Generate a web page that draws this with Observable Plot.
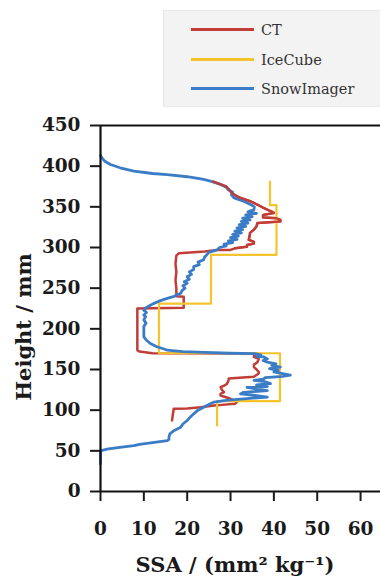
<!DOCTYPE html>
<html>
<head>
<meta charset="utf-8">
<script src="https://cdn.jsdelivr.net/npm/d3@7"></script>
<script src="https://cdn.jsdelivr.net/npm/@observablehq/plot@0.6"></script>
<style>
  html, body { margin: 0; padding: 0; background: #fff; }
  body { width: 380px; height: 576px; overflow: hidden; position: relative; }
  #chart { position: absolute; left: 0; top: 0; }
  .lbl { position: absolute; font-family: "DejaVu Serif", serif; font-weight: bold; font-size: 21px; color: #1a1a1a; white-space: nowrap; text-align: center; line-height: 24px; height: 24px; }
  #legend { position: absolute; left: 163px; top: 10px; width: 230px; height: 95px; background: #f3f3f3; border: 1px solid #e8e8e8; }
  .row { position: absolute; left: 0; height: 24px; width: 230px; }
  .sw { position: absolute; left: 27px; top: 10px; width: 63px; height: 3px; }
  .tx { position: absolute; left: 97px; top: 0; line-height: 24px; font-family: "DejaVu Serif", serif; font-size: 14.5px; color: #333; }
</style>
</head>
<body>
<div id="chart"></div>
<div id="legend"></div>
<div class="lbl" id="xlabel" style="left:35px; top:553px; width:400px;">SSA / (mm² kg⁻¹)</div>
<div class="lbl" id="ylabel" style="left:-76px; top:315px; width:200px; transform: rotate(-90deg);">Height / mm</div>
<script>
// ---- data ----
const seriesNames = ["CT", "IceCube", "SnowImager"];
const seriesColors = ["#c23c38", "#f5c42c", "#3b7cc6"];
const xTicks = [0, 10, 20, 30, 40, 50, 60];
const yTicks = [0, 50, 100, 150, 200, 250, 300, 350, 400, 450];

// IceCube layers: top height, bottom height (mm), SSA
const iceTop    = [381, 352, 291, 231, 170, 111];
const iceBottom = [352, 291, 231, 170, 111, 81];
const iceSSA    = [39.1, 40.6, 25.5, 13.5, 41.4, 26.9];

// CT profile (height mm, SSA)
const ctH = [381,378,375,372,369,366,363,361,357,352.7,349,346.5,344,342.5,340,337,336,334,332,330,326,322,318,314,309.5,307,305,303,301,299,297,297,295,293,290,280,270,260,250,240,239.5,235,228,226,225,215,200,180,173.7,172,170,169.8,167,165.5,163,159,156,153,150,147,145,141,140,138.8,136,132.6,130,128.4,125,122.2,120,118,115,112,110,108,106.5,105.8,103.7,102,101.7,95,87.3];
const ctV = [26,27.5,29,29.5,30,30.5,31.5,32.3,34.5,36.2,37.5,38.5,39.5,40,37.5,37.5,40.5,41.5,41.5,36.2,36,35.4,34.5,34.4,34.2,35.4,35.4,33.8,33.8,31,30,26.9,24,18.1,17.5,17.3,17.5,17.3,17.5,17.5,19.2,19.2,19.2,19.2,8.5,8.5,8.5,8.5,8.5,9,12,36.2,35.4,35.4,36.5,36.2,35.4,35.4,36,36.5,36.5,35.4,32,29.6,29.5,29.2,28.5,27.7,28,28.5,27.7,27.7,29.5,30.8,31.5,31,28,26.2,23.1,20,16.9,16.7,16.5];

// SnowImager profile (height mm, SSA)
const snowH = [413,410,406,402,398,394,391,389.7,387,384,381.5,378,374,371,368,365,361,357,353,350,346.5,344,342,340,338,336,334,332,330,328,326,324,322,320,318,316,314,312,310,308,306,304,302,300,297,294,291,288,285,282,279,276.5,273,270,267,264,261,258,256,253,250,247,243.7,240,237.5,234,231,229,226,223,220,217,214.8,211,207,203,198,194,190,186,182,178,175.5,173.7,172,171,170,169.6,168,166,165.4,163,161,159,157,155,153,151,149,147,145,143,141.5,140,138,136.7,135,132.6,131,129,128,126,124,122,120,118,116,114,112,110,107,103.7,100,95.5,92,87.3,83,79,75,70.8,67,64,62.6,60,58,56.4,54,52,50,45,40,34];
const snowV = [0,0.4,1.0,2.3,4.5,7.7,12,15.4,20,23.5,25.4,27.5,29,29.5,30.5,30.2,30.8,33,34.6,35.5,35.4,34,36,33.5,35,32.8,34.5,32.5,34,32,33.5,31.5,32.8,31,32.5,30.5,31.8,30,31.5,29.5,30.5,28.5,29,27.5,26.9,25,24.5,24,23.8,22.5,22.8,21.5,21.5,20.5,21,20,20.5,19.3,20,19,19.5,18.8,18.5,17,15.4,13.5,12.2,11.5,10.5,10,10.6,10,10.4,10,10.5,10,10,10,10,10.6,11.5,13,14.5,15.4,19,24,30,35.4,37,36,37.7,38.5,37.5,38.5,40.5,39.5,41.5,39,41,40,42,43.8,42,38,37.5,35.4,38,39.2,36,38.5,33.8,36,38.5,33,32.3,36,38.5,33,29,26.2,25,23.8,22.5,21.5,20.8,20,19,18.5,17,16,15.8,15.8,15.4,12,9,7.7,4,1.5,0,0,0,0];

// ---- build tables ----
const ct = ctH.map((h, i) => ({h, v: ctV[i]}));
const snow = snowH.map((h, i) => ({h, v: snowV[i]}));
const ice = [];
iceTop.forEach((t, i) => { ice.push({h: t, v: iceSSA[i]}); ice.push({h: iceBottom[i], v: iceSSA[i]}); });

const fig = Plot.plot({
  width: 380,
  height: 576,
  marginTop: 125,
  marginBottom: 85,
  marginLeft: 100,
  marginRight: 0,
  style: {fontFamily: "DejaVu Serif, serif", fontSize: "18.5px", fontWeight: "bold", color: "#1a1a1a", background: "transparent"},
  x: {domain: [0, 64.6]},
  y: {domain: [0, 450]},
  marks: [
    Plot.line(ct, {x: "v", y: "h", stroke: seriesColors[0], strokeWidth: 2.5}),
    Plot.line(ice, {x: "v", y: "h", stroke: seriesColors[1], strokeWidth: 2.2}),
    Plot.line(snow, {x: "v", y: "h", stroke: seriesColors[2], strokeWidth: 2.8}),
    Plot.line(ct.slice(0, 30), {x: "v", y: "h", stroke: seriesColors[0], strokeWidth: 2.2}),
    Plot.ruleY([0, 450], {stroke: "#111", strokeWidth: 2.2}),
    Plot.ruleX([0], {stroke: "#111", strokeWidth: 2.2}),
    Plot.axisY(yTicks, {tickSize: 10, tickPadding: 10, strokeWidth: 2, label: null, fontWeight: "bold"}),
    Plot.axisX(xTicks, {tickSize: 10, tickPadding: 20, strokeWidth: 2, label: null, fontWeight: "bold"})
  ]
});
document.getElementById("chart").appendChild(fig);

// legend
const legend = document.getElementById("legend");
const rowCenters = [19, 49, 78];
seriesNames.forEach((name, i) => {
  const row = document.createElement("div");
  row.className = "row";
  row.style.top = (rowCenters[i] - 12) + "px";
  const sw = document.createElement("div");
  sw.className = "sw";
  sw.style.background = seriesColors[i];
  const tx = document.createElement("div");
  tx.className = "tx";
  tx.textContent = name;
  row.appendChild(sw);
  row.appendChild(tx);
  legend.appendChild(row);
});
</script>
</body>
</html>
